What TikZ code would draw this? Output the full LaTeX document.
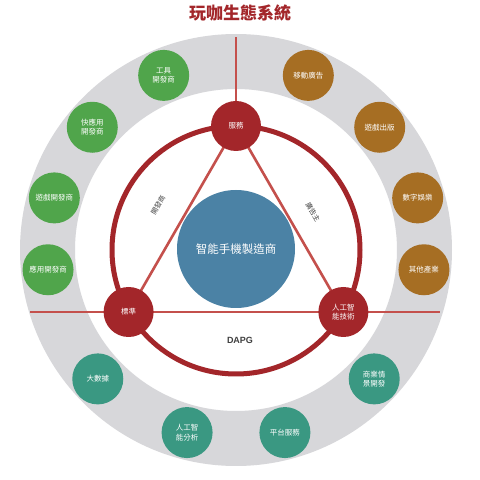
\documentclass[tikz,border=0pt]{standalone}
\usepackage{fontspec}
\setmainfont{Liberation Sans}
\newfontfamily\cjk{Noto Sans CJK TC}
\usetikzlibrary{calc}
\definecolor{cred}{HTML}{A3262A}
\definecolor{clight}{HTML}{C4504C}
\definecolor{cgreen}{HTML}{50A54B}
\definecolor{cbrown}{HTML}{A66E23}
\definecolor{cteal}{HTML}{3A9882}
\definecolor{cblue}{HTML}{4B82A5}
\definecolor{cgrey}{HTML}{D7D7DA}
\pgfdeclarelayer{bg}
\pgfsetlayers{bg,main}
\begin{document}
\begin{tikzpicture}[x=1pt,y=1pt]
\tikzset{
  orb/.style={circle, minimum size=51pt, inner sep=0pt, text=white, align=center,
    font=\cjk\fontsize{7.5}{9.5}\selectfont},
  greenorb/.style={orb, fill=cgreen},
  brownorb/.style={orb, fill=cbrown},
  tealorb/.style={orb, fill=cteal},
  hub/.style={orb, fill=cred, minimum size=50pt},
  tri/.style={draw=clight, line width=2.6pt},
  ring/.style={draw=cred, line width=5pt},
  sidelabel/.style={font=\cjk\fontsize{7}{8}\selectfont, text=black!75},
}
\useasboundingbox (0,0) rectangle (480,480);
\coordinate (C) at (236,230);
\begin{pgfonlayer}{bg}
  \fill[white] (0,0) rectangle (480,480);
  \fill[cgrey, even odd rule] (C) circle (216pt) (C) circle (161pt);
\end{pgfonlayer}
% title
\node[font=\cjk\bfseries\fontsize{17}{20}\selectfont, text=cred] (title) at (240,467) {玩咖生態系統};
% centre
\node[circle, fill=cblue, minimum size=118pt, inner sep=0pt, text=white,
  font=\cjk\fontsize{11.5}{13}\selectfont] (maker) at (236,231) {智能手機製造商};
% hubs
\node[hub] (svc) at ($(C)+(90:124pt)$) {服務};
\node[hub] (std) at ($(C)+(210:124pt)$) {標準};
\node[hub] (ai) at ($(C)+(330:124pt)$) {人工智\\能技術};
\coordinate (Hl) at (30,168);
\coordinate (Hr) at (440,168);
\coordinate (Vt) at (236,443);
\begin{pgfonlayer}{bg}
  \draw[tri] (Hl) -- (std.center) -- (ai.center) -- (Hr);
  \draw[tri] (svc.center) -- (Vt);
  \draw[tri] (std.center) -- (svc.center) -- (ai.center);
  \draw[ring] (C) circle (124pt);
\end{pgfonlayer}
% side labels
\node[sidelabel, rotate=60] (dev) at (158,275) {開發商};
\node[sidelabel, rotate=-60] (adv) at (313,268) {廣告主};
\node[font=\bfseries\fontsize{9}{10}\selectfont, text=black!75] (dapg) at (240,140) {DAPG};
% outer ring
\node[greenorb] (g1) at ($(C)+(112.5:189pt)$) {工具\\開發商};
\node[greenorb] (g2) at ($(C)+(139.5:189pt)$) {快應用\\開發商};
\node[greenorb] (g3) at ($(C)+(164:189pt)$) {遊戲開發商};
\node[greenorb] (g4) at ($(C)+(186:189pt)$) {應用開發商};
\node[brownorb] (b1) at ($(C)+(67.5:189pt)$) {移動廣告};
\node[brownorb] (b2) at ($(C)+(40.5:189pt)$) {遊戲出版};
\node[brownorb] (b3) at ($(C)+(16:189pt)$) {數字娛樂};
\node[brownorb] (b4) at ($(C)+(-6:189pt)$) {其他產業};
\node[tealorb] (t1) at ($(C)+(-137:189pt)$) {大數據};
\node[tealorb] (t2) at ($(C)+(-105:189pt)$) {人工智\\能分析};
\node[tealorb] (t3) at ($(C)+(-75:189pt)$) {平台服務};
\node[tealorb] (t4) at ($(C)+(-43:189pt)$) {商業情\\景開發};
\end{tikzpicture}
\end{document}
